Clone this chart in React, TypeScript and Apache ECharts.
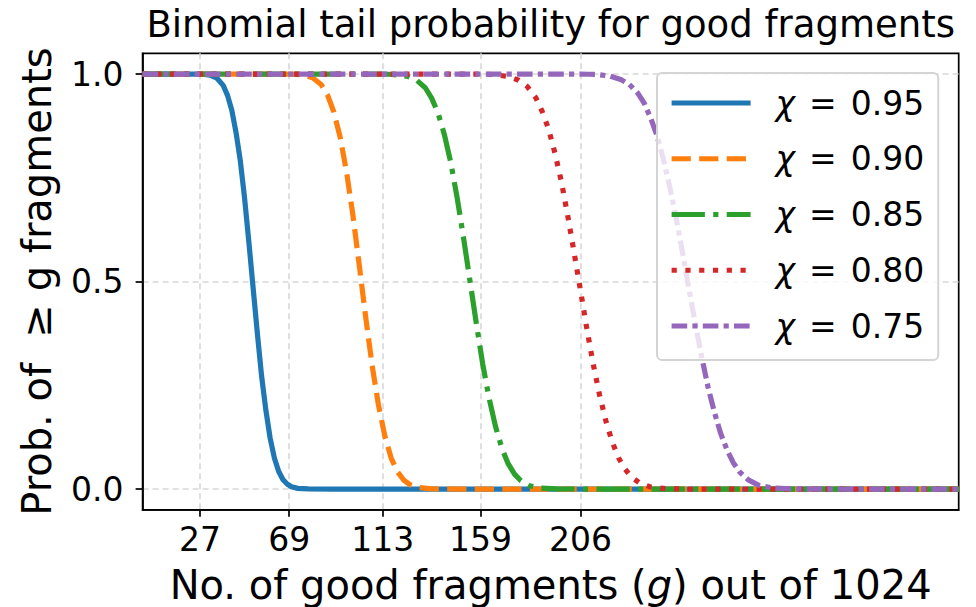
import React, { useEffect, useRef } from "react";
import * as echarts from "echarts";

// ---- data: [g, P(X >= g)] ----
const chi095: [number, number][] = [
  [0, 1], [24, 1], [28, 0.9997], [32, 0.997], [35, 0.99], [38, 0.972], [40, 0.948],
  [42, 0.912], [44, 0.858], [46, 0.79], [48, 0.70], [50, 0.595], [52, 0.485], [54, 0.375],
  [56, 0.272], [58, 0.19], [60, 0.123], [62, 0.075], [64, 0.043], [66, 0.023], [68, 0.012],
  [70, 0.0055], [73, 0.0016], [78, 0.0002], [90, 0], [384, 0],
];
const chi090: [number, number][] = [
  [0, 1], [68, 1], [72, 0.9993], [76, 0.997], [80, 0.991], [84, 0.975], [87, 0.95],
  [90, 0.908], [93, 0.847], [96, 0.763], [99, 0.658], [102, 0.537], [105, 0.413],
  [108, 0.298], [111, 0.202], [114, 0.127], [117, 0.074], [120, 0.041], [123, 0.021],
  [126, 0.01], [130, 0.0035], [136, 0.0005], [150, 0], [384, 0],
];
const chi085: [number, number][] = [
  [0, 1], [112, 1], [116, 0.9995], [120, 0.998], [125, 0.994], [129, 0.985], [133, 0.967],
  [136, 0.942], [139, 0.906], [142, 0.854], [145, 0.787], [148, 0.702], [151, 0.606],
  [154, 0.503], [157, 0.40], [160, 0.302], [163, 0.22], [166, 0.152], [169, 0.099],
  [172, 0.061], [175, 0.036], [178, 0.02], [182, 0.008], [187, 0.0023], [195, 0.0003],
  [210, 0], [384, 0],
];
const chi080: [number, number][] = [
  [0, 1], [158, 1], [162, 0.9995], [166, 0.9985], [172, 0.994], [177, 0.985], [181, 0.97],
  [185, 0.943], [188, 0.91], [191, 0.868], [194, 0.81], [197, 0.742], [200, 0.66],
  [203, 0.571], [206, 0.48], [209, 0.387], [212, 0.302], [215, 0.227], [218, 0.164],
  [221, 0.113], [224, 0.075], [227, 0.048], [230, 0.029], [234, 0.014], [239, 0.005],
  [246, 0.001], [256, 0], [384, 0],
];
const chi075: [number, number][] = [
  [0, 1], [206, 1], [210, 0.9995], [214, 0.9988], [220, 0.995], [225, 0.987], [229, 0.975],
  [233, 0.954], [236, 0.93], [239, 0.895], [242, 0.852], [245, 0.796], [248, 0.729],
  [251, 0.655], [254, 0.571], [257, 0.484], [260, 0.401], [263, 0.32], [266, 0.247],
  [269, 0.186], [272, 0.134], [275, 0.094], [278, 0.063], [281, 0.041], [285, 0.022],
  [290, 0.009], [297, 0.0022], [305, 0.0004], [320, 0], [384, 0],
];

const seriesNames = ["χ = 0.95", "χ = 0.90", "χ = 0.85", "χ = 0.80", "χ = 0.75"];
const seriesData = [chi095, chi090, chi085, chi080, chi075];
const xTicks = [27, 69, 113, 159, 206];
const yTicks = [0, 0.5, 1.0];

const colors = ["#1f77b4", "#ff7f0e", "#2ca02c", "#d62728", "#9467bd"];
const LW = 5.2;
const dashes: (string | number[])[] = [
  "solid",
  [3.7 * LW, 1.6 * LW],
  [6.4 * LW, 1.6 * LW, 1 * LW, 1.6 * LW],
  [1 * LW, 1.65 * LW],
  [3 * LW, 1 * LW, 1 * LW, 1 * LW],
];

const FONT = "DejaVu Sans";

export default function App() {
  const ref = useRef<HTMLDivElement>(null);
  useEffect(() => {
    if (!ref.current) return;
    const chart = echarts.init(ref.current, undefined, { renderer: "svg" });
    const gridL = 142.6, gridT = 53.3, gridW = 816.1, gridH = 456.5;
    chart.setOption({
      animation: false,
      backgroundColor: "#ffffff",
      grid: {
        left: gridL,
        top: gridT,
        width: gridW,
        height: gridH,
        show: true,
        borderColor: "#000000",
        borderWidth: 1.7,
        backgroundColor: "transparent",
        outerBoundsMode: "none",
      },
      graphic: [
        {
          type: "text",
          x: gridL + gridW / 2,
          y: 24,
          style: {
            text: "Binomial tail probability for good fragments",
            fontSize: 37,
            fontFamily: FONT,
            fill: "#000",
            align: "center",
            verticalAlign: "middle",
          },
        },
      ],
      legend: {
        orient: "vertical",
        left: 657,
        top: 73,
        padding: [10, 14, 14, 12],
        backgroundColor: "rgba(255,255,255,0.8)",
        borderColor: "#d4d4d4",
        borderWidth: 2,
        borderRadius: 5,
        itemWidth: 79,
        itemHeight: 40,
        itemGap: 15.75,
        z: 4,
        lineStyle: { width: LW },
        itemStyle: { color: "transparent", borderColor: "transparent", borderWidth: 0, opacity: 0 },
        data: seriesNames,
        formatter: (name: string) => {
          const val = name.split("= ")[1];
          return `{i|χ}{e|=}${val}`;
        },
        textStyle: {
          fontSize: 33,
          fontFamily: FONT,
          color: "#000",
          lineHeight: 40,
          padding: [0, 0, 0, 20],
          rich: {
            i: { fontStyle: "italic", fontSize: 33, fontFamily: FONT, color: "#000", lineHeight: 40 },
            e: { fontSize: 33, fontFamily: FONT, color: "#000", lineHeight: 40, padding: [0, 14, 0, 14] },
          },
        },
      },
      xAxis: {
        type: "value",
        min: 0,
        max: 384,
        name: "No. of good fragments ({i|g}) out of 1024",
        nameLocation: "middle",
        nameGap: 55,
        nameTextStyle: {
          fontSize: 40,
          fontFamily: FONT,
          color: "#000",
          rich: { i: { fontStyle: "italic", fontSize: 40, fontFamily: FONT, color: "#000" } },
        },
        axisLine: { show: true, onZero: false, lineStyle: { color: "#000", width: 1.7 } },
        axisTick: { show: true, customValues: xTicks, length: 7, lineStyle: { color: "#000", width: 1.7 } },
        axisLabel: { customValues: xTicks, fontSize: 33, fontFamily: FONT, color: "#000", margin: 13 },
        splitLine: { show: true, lineStyle: { color: "#d8d8d8", width: 1.6, type: [6, 4] } },
      },
      yAxis: {
        type: "value",
        min: -0.05,
        max: 1.05,
        name: "Prob. of  ≥ g fragments",
        nameLocation: "middle",
        nameRotate: 90,
        nameGap: 86,
        nameTextStyle: { fontSize: 40, fontFamily: FONT, color: "#000" },
        axisLine: { show: true, onZero: false, lineStyle: { color: "#000", width: 1.7 } },
        axisTick: { show: true, customValues: yTicks, length: 7, lineStyle: { color: "#000", width: 1.7 } },
        axisLabel: {
          customValues: yTicks,
          fontSize: 33,
          fontFamily: FONT,
          color: "#000",
          margin: 19,
          formatter: (v: number) => v.toFixed(1),
        },
        splitLine: { show: true, lineStyle: { color: "#d8d8d8", width: 1.6, type: [6, 4] } },
      },
      series: seriesData.map((d, i) => ({
        name: seriesNames[i],
        type: "line",
        data: d,
        symbol: "none",
        clip: true,
        lineStyle: { color: colors[i], width: LW, type: dashes[i], cap: "butt", join: "round" },
        itemStyle: { color: colors[i] },
      })),
    });
    return () => chart.dispose();
  }, []);
  return (
    <div
      ref={ref}
      style={{ position: "fixed", left: 0, top: 0, width: 976, height: 607 }}
    />
  );
}
